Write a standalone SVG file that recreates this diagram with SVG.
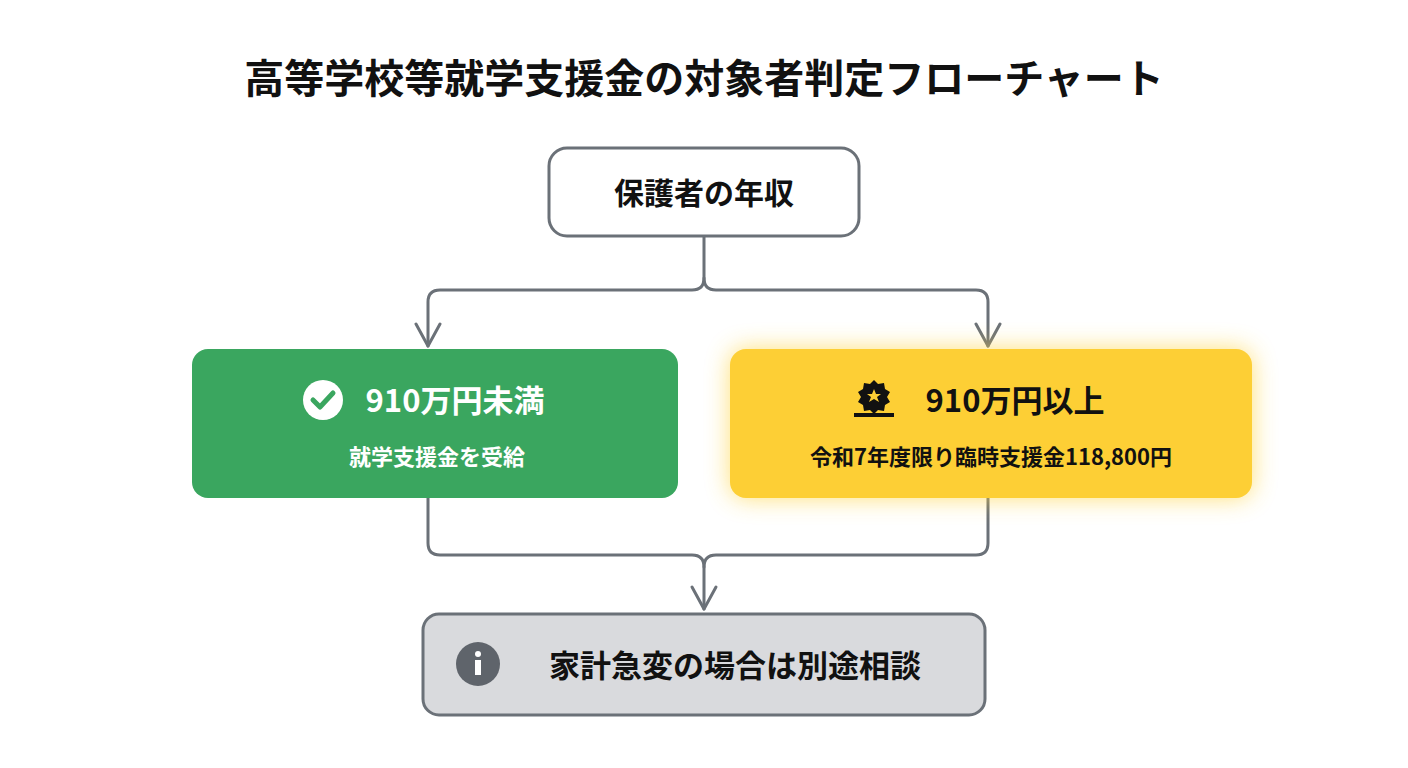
<svg xmlns="http://www.w3.org/2000/svg" width="1408" height="768" viewBox="0 0 1408 768">
<defs>
<style>
text{font-family:"Noto Sans CJK JP","Noto Sans",sans-serif;font-weight:bold;text-anchor:middle}
.c{fill:none;stroke:#6b7178;stroke-width:3;stroke-linecap:round;stroke-linejoin:round}
</style>
<filter id="glow" x="-20%" y="-40%" width="140%" height="180%"><feGaussianBlur stdDeviation="12"/></filter>
</defs>
<rect width="1408" height="768" fill="#fff"/>
<text x="704" y="93" font-size="40" fill="#111">高等学校等就学支援金の対象者判定フローチャート</text>
<g id="connectors">
<path class="c" d="M704 236 V278 Q704 290 692 290 H440 Q428 290 428 302 V346"/>
<path class="c" d="M704 278 Q704 290 716 290 H976 Q988 290 988 302 V346"/>
<path class="c" d="M416 324 L428 346 L440 324 M976 324 L988 346 L1000 324"/>
<path class="c" d="M428 498 V543 Q428 555 440 555 H692 Q704 555 704 567 V609"/>
<path class="c" d="M988 498 V543 Q988 555 976 555 H716 Q704 555 704 567"/>
<path class="c" d="M692 587 L704 609 L716 587"/>
</g>
<g id="n1">
<rect x="549" y="148" width="310" height="88" rx="18" fill="#fff" stroke="#6b7178" stroke-width="3"/>
<text x="704" y="204" font-size="30" fill="#111">保護者の年収</text>
</g>
<g id="n2">
<rect x="192" y="349" width="486" height="149" rx="16" fill="#3aa65f"/>
<circle cx="323" cy="400" r="20" fill="#fff"/>
<path d="M313 400 L320 407 L333 393" fill="none" stroke="#3aa65f" stroke-width="5" stroke-linecap="round" stroke-linejoin="round"/>
<text x="455" y="412" font-size="31" fill="#fff">910万円未満</text>
<text x="437" y="465" font-size="22" fill="#fff">就学支援金を受給</text>
</g>
<g id="n3">
<rect x="730" y="349" width="522" height="149" rx="16" fill="#fed33a" filter="url(#glow)" opacity="0.7"/>
<rect x="730" y="349" width="522" height="149" rx="16" fill="#fdcf35"/>
<path d="M874 380 l4 4 6-1 1 6 5 3-3 5 3 5-5 3-1 6-6-1-4 4-4-4-6 1-1-6-5-3 3-5-3-5 5-3 1-6 6 1z" fill="#111"/>
<path d="M874 389 l2 5 5 0-4 3 2 5-5-3-5 3 2-5-4-3 5 0z" fill="#fdcf35"/>
<rect x="854" y="413" width="40" height="4" fill="#111"/>
<text x="1015" y="412" font-size="31" fill="#111">910万円以上</text>
<text x="991" y="465" font-size="22" fill="#111">令和7年度限り臨時支援金118,800円</text>
</g>
<g id="n4">
<rect x="423" y="614" width="562" height="101" rx="16" fill="#d9dadd" stroke="#6b7178" stroke-width="3"/>
<circle cx="478" cy="664" r="22" fill="#5f646b"/>
<circle cx="478" cy="654" r="3" fill="#fff"/>
<rect x="475" y="660" width="6" height="15" fill="#fff"/>
<text x="735" y="677" font-size="31" fill="#111">家計急変の場合は別途相談</text>
</g>
</svg>
